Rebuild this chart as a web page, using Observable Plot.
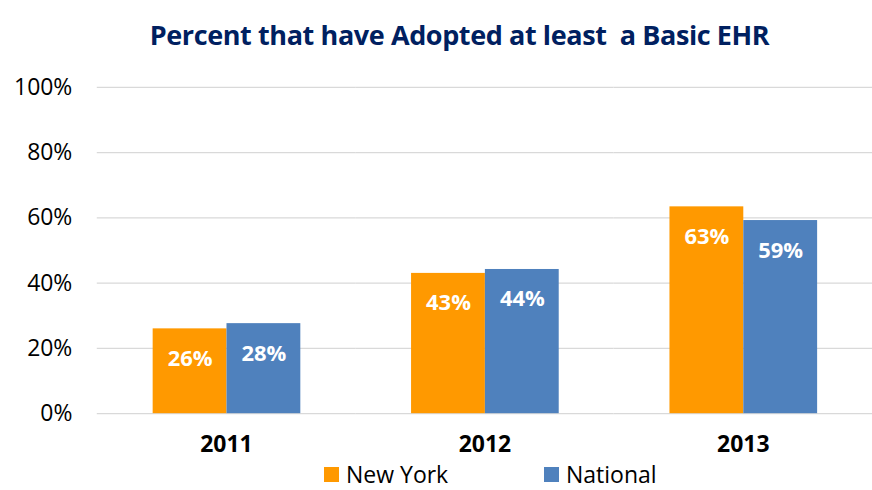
<!DOCTYPE html>
<html>
<head>
<meta charset="utf-8">
<script src="https://cdn.jsdelivr.net/npm/d3@7"></script>
<script src="https://cdn.jsdelivr.net/npm/@observablehq/plot@0.6"></script>
<style>
  html, body { margin: 0; padding: 0; background: #fff; }
  body { width: 872px; height: 490px; overflow: hidden; font-family: "Open Sans", sans-serif; }
  #title { height: 60px; line-height: 70px; text-align: center; padding-left: 47px; box-sizing: border-box;
    font-size: 27px; font-weight: 700; color: #002060; letter-spacing: -0.4px; white-space: pre; }
  #chart { width: 872px; overflow: hidden; }
  #legend { position: relative; height: 30px; font-size: 23px; color: #000; }
  .item { position: absolute; top: 0; display: flex; align-items: center; height: 30px; }
  .sw { width: 15px; height: 15px; margin-right: 7px; }
</style>
</head>
<body>
<div id="title">Percent that have Adopted at least  a Basic EHR</div>
<div id="chart"></div>
<div id="legend"></div>
<script>
const years = ["2011", "2012", "2013"];
const series = ["New York", "National"];
const newYork = [26, 43, 63.4];
const national = [27.6, 44.2, 59.2];
const yTicks = [0, 20, 40, 60, 80, 100];
const colors = ["#FF9900", "#4F81BD"];

const data = [];
years.forEach((y, i) => {
  data.push({year: y, series: series[0], value: newYork[i]});
  data.push({year: y, series: series[1], value: national[i]});
});

const plot = Plot.plot({
  width: 874,
  height: 400,
  marginTop: 27,
  marginBottom: 46,
  marginLeft: 97,
  marginRight: 0,
  style: {fontFamily: "Open Sans, sans-serif", color: "#000"},
  fx: {domain: years, padding: 0, label: null},
  x: {domain: series, paddingInner: 0, paddingOuter: 0.75, axis: null},
  y: {domain: [0, 100], axis: null},
  color: {domain: series, range: colors},
  marks: [
    Plot.gridY(yTicks, {stroke: "#d9d9d9", strokeOpacity: 1, strokeWidth: 1.3}),
    Plot.axisY(yTicks, {tickSize: 0, tickPadding: 25, tickFormat: d => d + "%", fontSize: 23, label: null, fill: "#000"}),
    Plot.axisFx({anchor: "bottom", tickSize: 0, tickPadding: 22, fontSize: 23, fontWeight: "bold", label: null, fill: "#000"}),
    Plot.barY(data, {fx: "year", x: "series", y: "value", fill: "series"}),
    Plot.text(data, {fx: "year", x: "series", y: "value", text: d => Math.round(d.value) + "%",
      dy: 30, fill: "white", fontWeight: "bold", fontSize: 22, lineAnchor: "middle"})
  ]
});
document.getElementById("chart").appendChild(plot);

const legend = document.getElementById("legend");
const lx = [324, 544];
series.forEach((s, i) => {
  const it = document.createElement("div");
  it.className = "item";
  it.style.left = lx[i] + "px";
  it.innerHTML = `<div class="sw" style="background:${colors[i]}"></div><span>${s}</span>`;
  legend.appendChild(it);
});
</script>
</body>
</html>
